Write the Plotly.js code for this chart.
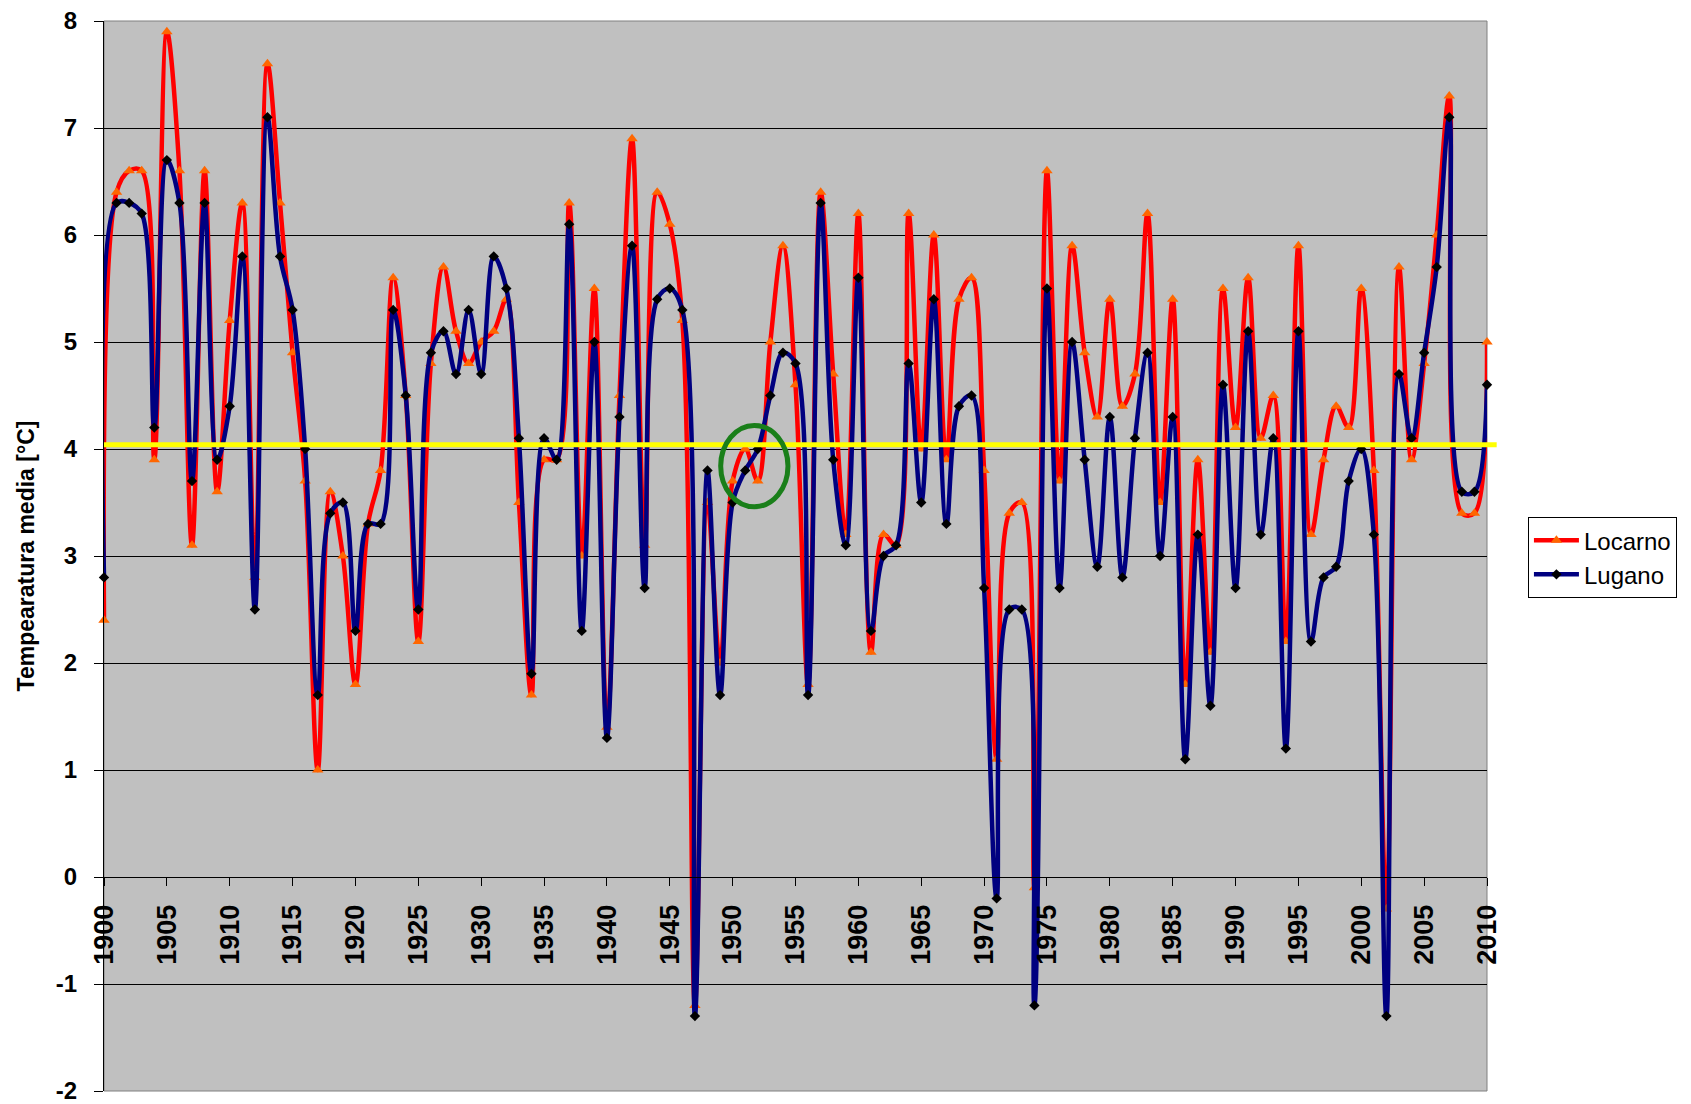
<!DOCTYPE html>
<html>
<head>
<meta charset="utf-8">
<script src="https://cdn.plot.ly/plotly-3.0.1.min.js"></script>
<style>html,body{margin:0;padding:0;background:#fff;}#chart{width:1691px;height:1104px;}</style>
</head>
<body>
<div id="chart"></div>
<script>
var years = [1900,1901,1902,1903,1904,1905,1906,1907,1908,1909,
1910,1911,1912,1913,1914,1915,1916,1917,1918,1919,
1920,1921,1922,1923,1924,1925,1926,1927,1928,1929,
1930,1931,1932,1933,1934,1935,1936,1937,1938,1939,
1940,1941,1942,1943,1944,1945,1946,1947,1948,1949,
1950,1951,1952,1953,1954,1955,1956,1957,1958,1959,
1960,1961,1962,1963,1964,1965,1966,1967,1968,1969,
1970,1971,1972,1973,1974,1975,1976,1977,1978,1979,
1980,1981,1982,1983,1984,1985,1986,1987,1988,1989,
1990,1991,1992,1993,1994,1995,1996,1997,1998,1999,
2000,2001,2002,2003,2004,2005,2006,2007,2008,2009,2010];

var locarno = [2.4,6.4,6.6,6.6,3.9,7.9,6.6,3.1,6.6,3.6,
5.2,6.3,2.8,7.6,6.3,4.9,3.7,1.0,3.6,3.0,
1.8,3.3,3.8,5.6,4.5,2.2,4.8,5.7,5.1,4.8,
5.0,5.1,5.4,3.5,1.7,3.9,3.9,6.3,3.0,5.5,
1.4,4.5,6.9,3.1,6.4,6.1,5.2,-1.2,3.5,2.0,
3.7,4.0,3.7,5.0,5.9,4.6,1.8,6.4,4.7,3.2,
6.2,2.1,3.2,3.1,6.2,4.0,6.0,3.9,5.4,5.6,
3.8,1.1,3.4,3.5,-0.1,6.6,3.7,5.9,4.9,4.3,
5.4,4.4,4.7,6.2,3.5,5.4,1.8,3.9,2.1,5.5,
4.2,5.6,4.1,4.5,2.2,5.9,3.2,3.9,4.4,4.2,
5.5,3.8,-0.3,5.7,3.9,4.8,6.0,7.3,3.4,3.4,5.0];

var lugano = [2.8,6.3,6.3,6.2,4.2,6.7,6.3,3.7,6.3,3.9,
4.4,5.8,2.5,7.1,5.8,5.3,4.0,1.7,3.4,3.5,
2.3,3.3,3.3,5.3,4.5,2.5,4.9,5.1,4.7,5.3,
4.7,5.8,5.5,4.1,1.9,4.1,3.9,6.1,2.3,5.0,
1.3,4.3,5.9,2.7,5.4,5.5,5.3,-1.3,3.8,1.7,
3.5,3.8,4.0,4.5,4.9,4.8,1.7,6.3,3.9,3.1,
5.6,2.3,3.0,3.1,4.8,3.5,5.4,3.3,4.4,4.5,
2.7,-0.2,2.5,2.5,-1.2,5.5,2.7,5.0,3.9,2.9,
4.3,2.8,4.1,4.9,3.0,4.3,1.1,3.2,1.6,4.6,
2.7,5.1,3.2,4.1,1.2,5.1,2.2,2.8,2.9,3.7,
4.0,3.2,-1.3,4.7,4.1,4.9,5.7,7.1,3.6,3.6,4.6];

var seriesNames = ["Locarno", "Lugano"];
var xTickVals = [1900,1905,1910,1915,1920,1925,1930,1935,1940,1945,1950,1955,1960,1965,1970,1975,1980,1985,1990,1995,2000,2005,2010];
var yTickVals = [-2,-1,0,1,2,3,4,5,6,7,8];
var yTickText = ["-2","-1","0","1","2","3","4","5","6","7","8"];
var referenceLevel = 4.04;
var circleX = [1949.05, 1954.4];
var circleY = [3.46, 4.22];

var FONT = "Liberation Sans, Arial, sans-serif";

var traces = [
  {
    x: years, y: locarno, name: seriesNames[0], type: "scatter", mode: "lines+markers",
    line: {color: "#FF0000", width: 4.5, shape: "spline", smoothing: 1},
    marker: {symbol: "triangle-up", size: 10, color: "#FF6600"},
    cliponaxis: false
  },
  {
    x: years, y: lugano, name: seriesNames[1], type: "scatter", mode: "lines+markers",
    line: {color: "#000080", width: 4.5, shape: "spline", smoothing: 1},
    marker: {symbol: "diamond", size: 8, color: "#000000"},
    cliponaxis: false
  }
];

var layout = {
  width: 1691, height: 1104,
  margin: {l: 104, r: 204, t: 21, b: 13, pad: 0},
  paper_bgcolor: "#FFFFFF",
  plot_bgcolor: "#C0C0C0",
  showlegend: true,
  legend: {
    x: 1.0296, y: 0.5364, xanchor: "left", yanchor: "top",
    bgcolor: "#FFFFFF", bordercolor: "#000000", borderwidth: 1,
    font: {family: FONT, size: 24, color: "#000000"},
    itemwidth: 45, tracegroupgap: 0
  },
  xaxis: {
    range: [1900, 2010],
    tickvals: xTickVals,
    ticktext: xTickVals.map(String),
    tickangle: -90,
    ticks: "outside", ticklen: 8, tickcolor: "#000000", tickwidth: 1,
    ticklabelstandoff: 8,
    showgrid: false, zeroline: false,
    showline: true, linecolor: "#000000", linewidth: 1,
    anchor: "free", position: 0.2,
    tickfont: {family: FONT, size: 27, color: "#000000", weight: "bold"},
    fixedrange: true
  },
  yaxis: {
    range: [-2, 8],
    tickvals: yTickVals,
    ticktext: yTickText,
    ticks: "outside", ticklen: 9, tickcolor: "#000000", tickwidth: 1,
    ticklabelstandoff: 12,
    ticklabeloverflow: "allow",
    showgrid: true, gridcolor: "#000000", gridwidth: 1,
    zeroline: true, zerolinecolor: "#000000", zerolinewidth: 1,
    showline: true, linecolor: "#000000", linewidth: 1,
    tickfont: {family: FONT, size: 24, color: "#000000", weight: "bold"},
    title: {text: "Tempearatura media [°C]", standoff: 14,
            font: {family: FONT, size: 23, color: "#000000", weight: "bold"}},
    fixedrange: true
  },
  shapes: [
    {type: "rect", xref: "paper", yref: "paper", x0: 0, x1: 1, y0: 0, y1: 1,
     line: {color: "#808080", width: 1}, layer: "below"},
    {type: "line", xref: "paper", yref: "y", x0: 0, x1: 1.007, y0: referenceLevel, y1: referenceLevel,
     line: {color: "#FFFF00", width: 5}, layer: "above"},
    {type: "circle", xref: "x", yref: "y", x0: circleX[0], x1: circleX[1], y0: circleY[0], y1: circleY[1],
     line: {color: "#1A7F1A", width: 5}, layer: "above"}
  ]
};

Plotly.newPlot("chart", traces, layout, {staticPlot: true, displayModeBar: false});
</script>
</body>
</html>
